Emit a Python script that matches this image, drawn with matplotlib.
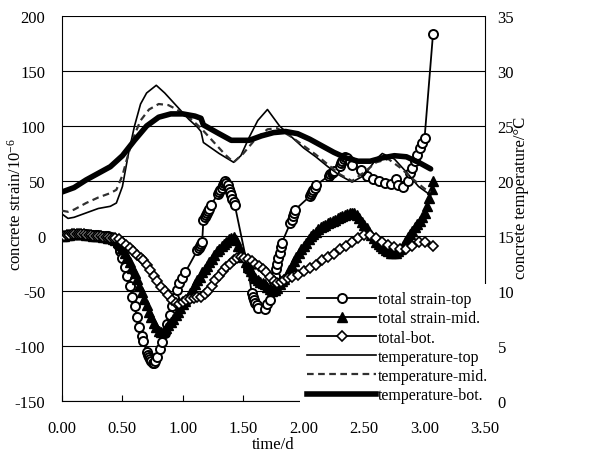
import matplotlib
matplotlib.use("Agg")
import matplotlib.pyplot as plt
from matplotlib.lines import Line2D

plt.rcParams['font.family'] = ['Liberation Serif', 'DejaVu Serif']
plt.rcParams['mathtext.fontset'] = 'custom'
plt.rcParams['mathtext.rm'] = 'Liberation Serif'
plt.rcParams['mathtext.it'] = 'Liberation Serif'

# ---------------- data ----------------
flat_t = [0.00, 0.02, 0.04, 0.06, 0.08, 0.10, 0.12, 0.14, 0.16, 0.18, 0.20, 0.22,
          0.24, 0.26, 0.28, 0.30, 0.32, 0.34, 0.36, 0.38, 0.40, 0.42, 0.44]

top_t = flat_t + [0.46, 0.48, 0.50, 0.52, 0.54, 0.56, 0.58, 0.60, 0.62, 0.64, 0.66, 0.67,
                  0.70, 0.71, 0.72, 0.73, 0.74, 0.75, 0.76, 0.77,
                  0.79, 0.81, 0.83, 0.85, 0.87, 0.89, 0.91, 0.93, 0.95, 0.97, 0.99, 1.02,
                  1.12, 1.13, 1.14, 1.15, 1.16,
                  1.17, 1.18, 1.19, 1.20, 1.21, 1.22, 1.23,
                  1.29, 1.30, 1.31, 1.32, 1.33, 1.34, 1.35,
                  1.36, 1.37, 1.38, 1.39, 1.40, 1.41, 1.42, 1.43,
                  1.54, 1.57, 1.58, 1.59, 1.60, 1.61, 1.62, 1.68,
                  1.70, 1.72, 1.74, 1.75, 1.76, 1.77, 1.78, 1.79, 1.80, 1.81, 1.82,
                  1.89, 1.90, 1.91, 1.92, 1.93,
                  2.05, 2.06, 2.07, 2.08, 2.09, 2.10,
                  2.21, 2.22, 2.23, 2.24, 2.25,
                  2.30, 2.31, 2.32, 2.33, 2.34, 2.36, 2.38, 2.40,
                  2.47, 2.52, 2.57, 2.62, 2.67, 2.72, 2.76, 2.78, 2.82, 2.86, 2.88,
                  2.90, 2.92, 2.94, 2.96, 2.98, 3.00, 3.07]
top_v = [0, 0, 1, 1, 2, 2, 2, 2, 2, 2, 2, 1, 1, 1, 1, 1, 0, 0, 0, 0, -1, -2, -4,
         -8, -14, -20, -28, -36, -45, -55, -64, -74, -83, -91, -95,
         -105, -108, -110, -112, -114, -115, -115, -114,
         -110, -103, -96, -88, -80, -72, -64, -56, -49, -43, -38, -33,
         -13, -11, -9, -7, -5,
         15, 17, 19, 21, 23, 25, 28,
         38, 40, 42, 44, 46, 48, 50,
         48, 46, 43, 40, 37, 34, 31, 28,
         -30, -52, -55, -58, -61, -63, -65, -66,
         -62, -58, -48, -42, -36, -30, -25, -20, -15, -10, -6,
         12, 15, 18, 21, 24,
         36, 38, 40, 42, 44, 46,
         55, 56, 57, 58, 59,
         64, 66, 68, 70, 72, 71, 68, 65,
         60, 55, 52, 50, 48, 47, 52, 46, 45, 50, 57,
         62, 68, 74, 80, 85, 89, 184]

mid_t = flat_t + [0.46, 0.48, 0.50, 0.52, 0.54, 0.56, 0.58, 0.60, 0.62, 0.64, 0.66, 0.68,
                  0.70, 0.72, 0.74, 0.76, 0.78, 0.80, 0.82, 0.84, 0.86, 0.88, 0.90, 0.92,
                  0.94, 0.96, 0.98, 1.00, 1.02, 1.04, 1.06, 1.08, 1.10, 1.12, 1.14, 1.16,
                  1.18, 1.20, 1.22, 1.24, 1.26, 1.28, 1.30, 1.32, 1.34, 1.36, 1.38, 1.40,
                  1.42, 1.44, 1.46, 1.48, 1.50, 1.52, 1.54, 1.56, 1.58, 1.60, 1.62, 1.64,
                  1.66, 1.68, 1.70, 1.72, 1.74, 1.76, 1.78, 1.80, 1.82, 1.84, 1.86, 1.88,
                  1.90, 1.92, 1.94, 1.96, 1.98, 2.00, 2.02, 2.04, 2.06, 2.08, 2.10, 2.12,
                  2.14, 2.16, 2.18, 2.20, 2.22, 2.24, 2.26, 2.28, 2.30, 2.32, 2.34, 2.36,
                  2.38, 2.40, 2.42, 2.44, 2.46, 2.48, 2.50, 2.52, 2.54, 2.56, 2.58, 2.60,
                  2.62, 2.64, 2.66, 2.68, 2.70, 2.72, 2.74, 2.76, 2.78, 2.80, 2.82, 2.84,
                  2.86, 2.88, 2.90, 2.92, 2.94, 2.96, 2.98, 3.00, 3.02, 3.04, 3.06, 3.07]
mid_v = [0, 0, 1, 1, 2, 2, 2, 2, 2, 2, 1, 1, 1, 0, 0, 0, 0, -1, -1, -2, -2, -3, -4,
         -5, -8, -11, -15, -19, -24, -29, -34, -39, -45, -51, -57,
         -63, -69, -74, -79, -83, -86, -87, -86, -84, -81, -78, -75,
         -72, -69, -65, -62, -59, -55, -52, -48, -44, -40, -37, -33,
         -30, -27, -24, -21, -17, -14, -12, -9, -7, -5, -3, -2,
         -1, -4, -9, -14, -19, -24, -28, -32, -35, -38, -40, -42,
         -43, -44, -46, -48, -50, -49, -47, -44, -41, -39, -35, -31,
         -27, -23, -19, -15, -12, -9, -6, -3, 0, 2, 4, 6,
         8, 9, 10, 12, 13, 14, 15, 16, 17, 18, 19, 20,
         21, 21, 21, 19, 16, 13, 10, 7, 4, 1, -2, -5,
         -7, -9, -11, -13, -14, -15, -15, -15, -14, -12, -9, -5,
         -1, 2, 5, 8, 11, 14, 17, 21, 27, 35, 43, 50]

bot_t = flat_t + [0.47, 0.50, 0.53, 0.56, 0.59, 0.62, 0.65, 0.67, 0.70, 0.73, 0.76, 0.79,
                  0.82, 0.85, 0.88, 0.91, 0.94, 0.97, 1.00, 1.03, 1.06, 1.09, 1.12, 1.15,
                  1.18, 1.21, 1.24, 1.27, 1.30, 1.33, 1.36, 1.39, 1.42, 1.45, 1.48, 1.51,
                  1.54, 1.57, 1.60, 1.63, 1.66, 1.69, 1.72, 1.75, 1.78, 1.81, 1.84, 1.87,
                  1.90, 1.95, 2.00, 2.05, 2.10, 2.15, 2.20, 2.25, 2.30, 2.35, 2.40, 2.45,
                  2.50, 2.55, 2.60, 2.65, 2.70, 2.75, 2.80, 2.85, 2.90, 2.95, 3.00, 3.07]
bot_v = [0, 0, 1, 1, 2, 2, 2, 2, 2, 2, 1, 1, 1, 0, 0, 0, 0, -1, -1, -1, -2, -2, -2,
         -3, -5, -8, -11, -14, -17, -20, -22, -26, -31, -36, -41,
         -46, -50, -54, -58, -61, -62, -60, -58, -57, -56, -55, -55,
         -53, -50, -45, -40, -36, -32, -28, -25, -22, -20, -19, -20,
         -21, -23, -25, -27, -30, -33, -37, -41, -43, -42, -40, -38,
         -37, -35, -32, -29, -26, -22, -19, -16, -12, -9, -5, -2,
         1, 1, -2, -5, -8, -10, -12, -12, -9, -5, -5, -9]

ttop_t = [0.00, 0.05, 0.10, 0.20, 0.30, 0.40, 0.45, 0.50, 0.55, 0.60, 0.65, 0.70, 0.78,
          0.85, 0.95, 1.05, 1.12, 1.15, 1.17, 1.30, 1.42, 1.48, 1.55, 1.62, 1.70, 1.80,
          1.90, 2.00, 2.10, 2.20, 2.30, 2.40, 2.50, 2.60, 2.65, 2.75, 2.85, 2.95, 3.05]
ttop_v = [17.0, 16.6, 16.7, 17.1, 17.5, 17.7, 18.0, 19.5, 22.5, 25.0, 27.0, 28.0, 28.7,
          28.0, 26.8, 25.6, 24.9, 24.5, 23.5, 22.5, 21.7, 22.3, 24.0, 25.5, 26.5, 25.0,
          24.0, 23.0, 22.2, 21.3, 20.5, 19.9, 20.5, 22.0, 22.5, 22.0, 20.8, 19.5, 18.7]

tmid_t = [0.00, 0.05, 0.10, 0.20, 0.30, 0.40, 0.45, 0.50, 0.55, 0.60, 0.65, 0.72, 0.80,
          0.88, 0.95, 1.05, 1.15, 1.25, 1.35, 1.42, 1.50, 1.60, 1.70, 1.78, 1.90, 2.00,
          2.10, 2.20, 2.30, 2.40, 2.50, 2.60, 2.70, 2.80, 2.90, 3.00, 3.05]
tmid_v = [17.3, 17.2, 17.4, 18.0, 18.5, 18.9, 19.2, 20.5, 22.5, 24.2, 25.5, 26.5, 27.0,
          26.9, 26.5, 25.8, 24.8, 23.6, 22.4, 21.7, 22.5, 23.8, 24.7, 24.8, 24.0, 23.2,
          22.4, 21.5, 20.6, 20.0, 20.8, 21.7, 22.0, 21.2, 20.2, 19.3, 19.0]

tbot_t = [0.00, 0.10, 0.20, 0.30, 0.40, 0.50, 0.60, 0.70, 0.80, 0.90, 1.00, 1.10, 1.15,
          1.17, 1.30, 1.40, 1.55, 1.65, 1.75, 1.85, 1.95, 2.05, 2.15, 2.25, 2.35, 2.45,
          2.55, 2.65, 2.75, 2.85, 2.95, 3.05]
tbot_v = [19.0, 19.4, 20.1, 20.7, 21.3, 22.3, 23.7, 25.0, 25.8, 26.1, 26.1, 25.9, 25.7,
          25.1, 24.3, 23.7, 23.7, 24.1, 24.4, 24.5, 24.3, 23.8, 23.2, 22.6, 22.1, 21.8,
          21.8, 22.1, 22.3, 22.2, 21.7, 21.1]

x_ticks = [0.0, 0.5, 1.0, 1.5, 2.0, 2.5, 3.0, 3.5]
y_ticks = [-150, -100, -50, 0, 50, 100, 150, 200]
y2_ticks = [0, 5, 10, 15, 20, 25, 30, 35]
labels = ['total strain-top', 'total strain-mid.', 'total-bot.',
          'temperature-top', 'temperature-mid.', 'temperature-bot.']

# ---------------- figure ----------------
W, H = 616, 456
fig = plt.figure(figsize=(W / 100, H / 100), dpi=100)
ax = fig.add_axes([62 / W, 1 - 402 / H, (485 - 62) / W, (402 - 17) / H])
ax2 = ax.twinx()

FS = 12
ax.set_xlim(0, 3.5)
ax.set_ylim(-150, 200)
ax2.set_ylim(0, 35)
ax.set_xticks(x_ticks)
ax.set_xticklabels(['%.2f' % v for v in x_ticks], fontsize=FS)
ax.set_yticks(y_ticks)
ax.set_yticklabels([str(v) for v in y_ticks], fontsize=FS)
ax2.set_yticks(y2_ticks)
ax2.set_yticklabels([str(v) for v in y2_ticks], fontsize=FS)

ax.grid(axis='y', color='black', linewidth=0.8)
ax.set_axisbelow(True)
ax.tick_params(axis='y', length=0, pad=12)
ax.tick_params(axis='x', direction='in', length=4, width=0.8, pad=14, color='black')
ax2.tick_params(axis='y', length=0, pad=9)

for s in ['top', 'right']:
    ax.spines[s].set_visible(False)
for s in ['top', 'left', 'bottom']:
    ax2.spines[s].set_visible(False)
ax.spines['left'].set_linewidth(0.8)
ax.spines['bottom'].set_linewidth(0.8)
ax2.spines['right'].set_linewidth(0.8)

# strain series
ax.plot(top_t, top_v, color='black', lw=1.3, marker='o', ms=6.5, mfc='white',
        mec='black', mew=1.4, zorder=4)
ax.plot(mid_t, mid_v, color='black', lw=1.3, marker='^', ms=7.5, mfc='black',
        mec='black', zorder=4)
ax.plot(bot_t, bot_v, color='black', lw=1.3, marker='D', ms=5, mfc='white',
        mec='black', mew=1.2, zorder=4)

# temperature series
ax2.plot(ttop_t, ttop_v, color='black', lw=1.2)
ax2.plot(tmid_t, tmid_v, color='#303030', lw=1.6, ls=(0, (3, 2)))
ax2.plot(tbot_t, tbot_v, color='black', lw=4.0, solid_capstyle='round')

fig.text(16 / W, 1 - 205 / H, 'concrete strain/10$^{-6}$', rotation=90,
         fontsize=FS, ha='center', va='center')
fig.text(273 / W, 1 - 445 / H, 'time/d', fontsize=FS, ha='center', va='center')
fig.text(521 / W, 1 - 198 / H, 'concrete temperature/\u00b0C', rotation=90,
         fontsize=FS, ha='center', va='center')

handles = [
    Line2D([], [], color='black', lw=1.3, marker='o', ms=6.5, mfc='white', mec='black', mew=1.4),
    Line2D([], [], color='black', lw=1.3, marker='^', ms=7.5, mfc='black', mec='black'),
    Line2D([], [], color='black', lw=1.3, marker='D', ms=5, mfc='white', mec='black', mew=1.2),
    Line2D([], [], color='black', lw=1.2),
    Line2D([], [], color='#303030', lw=1.6, ls=(0, (3, 2))),
    Line2D([], [], color='black', lw=4.0),
]
leg = ax2.legend(handles, labels, loc='upper left', bbox_to_anchor=(300 / W, 1 - 285 / H),
                 bbox_transform=fig.transFigure, borderaxespad=0, fontsize=11.5,
                 frameon=True, fancybox=False, framealpha=1, facecolor='white',
                 edgecolor='none', handlelength=4.3, handletextpad=0.15,
                 labelspacing=0.2, borderpad=0.45, numpoints=1)
leg.set_zorder(10)

fig.savefig('out.png', dpi=100)
